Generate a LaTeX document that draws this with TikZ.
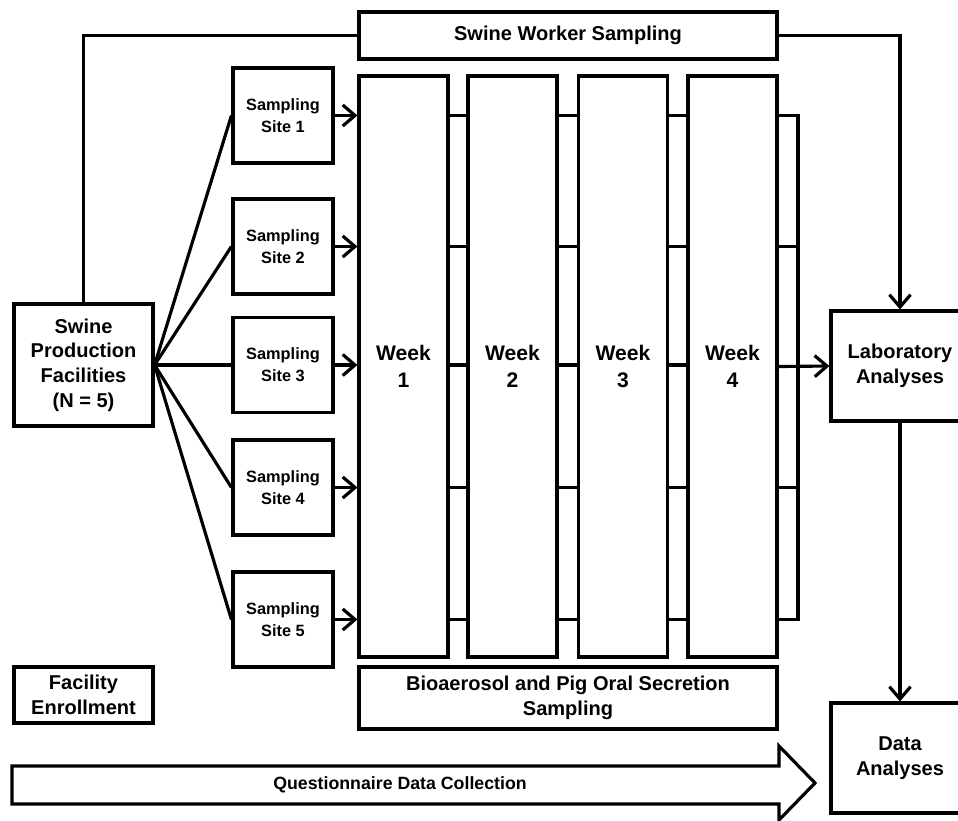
\documentclass[tikz,border=0pt]{standalone}
\usepackage{fontspec}
\setmainfont{Liberation Sans}
\usetikzlibrary{positioning}
\usetikzlibrary{arrows.meta}

\begin{document}
\begin{tikzpicture}[x=0.02cm,y=-0.02cm,line width=1.8pt,
    >={Straight Barb[length=7pt,width=12pt]},
    box/.style={draw,rectangle,align=center,inner sep=1pt,font=\bfseries\fontsize{11.4}{14}\selectfont},
    sitebox/.style={box,minimum width=2cm,minimum height=1.9cm,font=\bfseries\fontsize{9.3}{12.5}\selectfont},
    weekbox/.style={box,minimum width=1.78cm,minimum height=11.62cm,font=\bfseries\fontsize{12}{15}\selectfont}]
    % Parameters
    \pgfmathsetmacro{\bracketx}{798}
    \useasboundingbox (0,0) rectangle (958,821);

    % Boxes
    \node[box,minimum width=2.78cm,minimum height=2.44cm] (fac) at (83.5,365) {Swine\\Production\\Facilities\\(N = 5)};
    \node[box,minimum width=8.36cm,minimum height=0.94cm] (worker) at (568,35.5) {Swine Worker Sampling};
    \node[sitebox] (s1) at (283,115.5) {Sampling\\Site 1};
    \node[sitebox] (s2) at (283,246.5) {Sampling\\Site 2};
    \node[sitebox] (s3) at (283,365) {Sampling\\Site 3};
    \node[sitebox] (s4) at (283,487.5) {Sampling\\Site 4};
    \node[sitebox] (s5) at (283,619.5) {Sampling\\Site 5};
    \foreach \i/\x in {1/403.5,2/512.5,3/623,4/732.5}
        \node[weekbox] (w\i) at (\x,366.5) {Week\\\i};
    \node[box,minimum width=2.76cm,minimum height=2.2cm] (lab) at (900,366) {Laboratory\\Analyses};
    \node[box,minimum width=2.76cm,minimum height=2.2cm] (data) at (900,758) {Data\\Analyses};
    \node[box,minimum width=2.78cm,minimum height=1.12cm] (enroll) at (83.5,695) {Facility\\Enrollment};
    \node[box,minimum width=8.36cm,minimum height=1.24cm] (bio) at (568,698) {Bioaerosol and Pig Oral Secretion\\Sampling};

    % Questionnaire arrow
    \draw (12,766) -- (779,766) -- (779,746) -- (815,783) -- (779,820) -- (779,804) -- (12,804) -- cycle;
    \node[font=\bfseries\fontsize{10.1}{12}\selectfont] (quest) at (400,785) {Questionnaire Data Collection};

    % Connections
    \foreach \i in {1,...,5} {
        \draw (fac.east) -- (s\i.west);
        \draw[->] (s\i.east) -- (s\i.east -| w1.west);
        \draw (w1.east |- s\i) -- (w2.west |- s\i);
        \draw (w2.east |- s\i) -- (w3.west |- s\i);
        \draw (w3.east |- s\i) -- (w4.west |- s\i);
    }
    \coordinate (brtop) at (\bracketx,115.5);
    \coordinate (brbot) at (\bracketx,619.5);
    \draw (w4.east |- s1) -- (brtop) -- (brbot) -- (w4.east |- s5);
    \draw (w4.east |- s2) -- (brtop |- s2);
    \draw (w4.east |- s4) -- (brtop |- s4);
    \draw[->] (w4.east) -- (lab.west);
    \draw (fac.north) |- (worker.west);
    \draw[->] (worker.east) -| (lab.north);
    \draw[->] (lab) -- (data);
\end{tikzpicture}
\end{document}
